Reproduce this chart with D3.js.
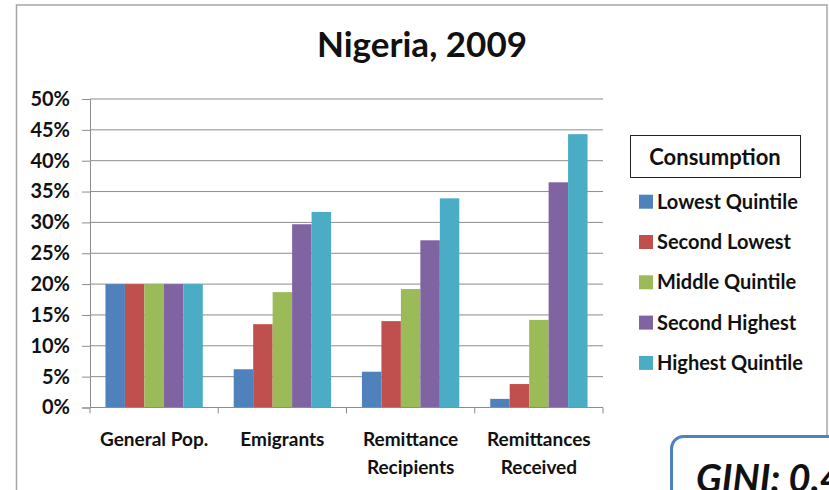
<!DOCTYPE html>
<html>
<head>
<meta charset="utf-8">
<script src="https://cdn.jsdelivr.net/npm/d3@7"></script>
<style>
  html, body { margin: 0; padding: 0; background: #fff; }
  svg { display: block; }
  text { font-family: Lato, "Open Sans", sans-serif; fill: #111; font-weight: bold; }
</style>
</head>
<body>
<svg id="chart" width="829" height="490"></svg>
<script>
// Consumption-quintile shares, Nigeria 2009
const categories = [["General Pop."], ["Emigrants"], ["Remittance", "Recipients"], ["Remittances", "Received"]];
const seriesNames = ["Lowest Quintile", "Second Lowest", "Middle Quintile", "Second Highest", "Highest Quintile"];
const lowestQuintile  = [0.20, 0.062, 0.058, 0.014];
const secondLowest    = [0.20, 0.135, 0.140, 0.038];
const middleQuintile  = [0.20, 0.187, 0.192, 0.142];
const secondHighest   = [0.20, 0.297, 0.271, 0.365];
const highestQuintile = [0.20, 0.317, 0.339, 0.443];
const yTicks = [0, 0.05, 0.10, 0.15, 0.20, 0.25, 0.30, 0.35, 0.40, 0.45, 0.50];
const colors = ["#4f81bd", "#c0504d", "#9bbb59", "#8064a2", "#4bacc6"];

const series = [lowestQuintile, secondLowest, middleQuintile, secondHighest, highestQuintile];
const catKeys = categories.map(c => c.join(" "));

const svg = d3.select("#chart");

// outer frame
svg.append("rect")
  .attr("x", 16.5).attr("y", 5).attr("width", 810.5).attr("height", 500)
  .attr("fill", "#fff").attr("stroke", "#a6a6a6").attr("stroke-width", 1.5);

// title
svg.append("text")
  .attr("x", 422).attr("y", 57)
  .attr("text-anchor", "middle")
  .style("font-size", "35px")
  .text("Nigeria, 2009");

const plotLeft = 90, plotRight = 603, plotTop = 99, plotBottom = 407.5;

const x0 = d3.scaleBand().domain(catKeys).range([plotLeft, plotRight])
  .paddingInner(0.241).paddingOuter(0.1205);
const x1 = d3.scaleBand().domain(d3.range(series.length)).range([0, x0.bandwidth()]);
const y = d3.scaleLinear().domain([0, 0.5]).range([plotBottom, plotTop]);

// gridlines
svg.append("g")
  .selectAll("line").data(yTicks.filter(t => t > 0)).join("line")
  .attr("x1", plotLeft).attr("x2", plotRight)
  .attr("y1", d => y(d)).attr("y2", d => y(d))
  .attr("stroke", "#8c8c8c").attr("stroke-width", 1);

// y axis
const yAxis = svg.append("g")
  .attr("transform", `translate(${plotLeft},0)`)
  .call(d3.axisLeft(y).tickValues(yTicks).tickFormat(d3.format(".0%")).tickSize(8).tickPadding(12));
yAxis.selectAll("path, line").attr("stroke", "#8c8c8c");
yAxis.selectAll("text")
  .style("font-size", "20px").style("font-family", "Lato, sans-serif").style("font-weight", "bold")
  .attr("fill", "#111");

// bars
const groups = svg.append("g").selectAll("g").data(catKeys).join("g")
  .attr("transform", d => `translate(${x0(d)},0)`);
groups.selectAll("rect")
  .data((d, i) => series.map((s, k) => ({ k, v: s[i] })))
  .join("rect")
  .attr("x", d => x1(d.k))
  .attr("width", x1.bandwidth())
  .attr("y", d => y(d.v))
  .attr("height", d => y(0) - y(d.v))
  .attr("fill", d => colors[d.k]);

// x axis baseline and category ticks
svg.append("line")
  .attr("x1", plotLeft).attr("x2", plotRight)
  .attr("y1", plotBottom).attr("y2", plotBottom)
  .attr("stroke", "#8c8c8c");
const step = x0.step();
svg.append("g").selectAll("line").data(d3.range(catKeys.length + 1)).join("line")
  .attr("x1", i => plotLeft + i * step).attr("x2", i => plotLeft + i * step)
  .attr("y1", plotBottom).attr("y2", plotBottom + 6)
  .attr("stroke", "#8c8c8c");

// category labels
svg.append("g").selectAll("text").data(categories).join("text")
  .attr("x", (d, i) => x0(catKeys[i]) + x0.bandwidth() / 2)
  .attr("y", 446)
  .attr("text-anchor", "middle")
  .style("font-size", "19px")
  .each(function (lines) {
    d3.select(this).selectAll("tspan").data(lines).join("tspan")
      .attr("x", d3.select(this).attr("x"))
      .attr("dy", (l, j) => j === 0 ? 0 : 28)
      .text(l => l);
  });

// legend
const legend = svg.append("g");
legend.append("rect")
  .attr("x", 630.5).attr("y", 135.5).attr("width", 170).attr("height", 42)
  .attr("fill", "#fff").attr("stroke", "#222").attr("stroke-width", 1);
legend.append("text")
  .attr("x", 715).attr("y", 164.5)
  .attr("text-anchor", "middle")
  .style("font-size", "22px")
  .text("Consumption");
const items = legend.selectAll("g.item").data(seriesNames).join("g")
  .attr("class", "item")
  .attr("transform", (d, i) => `translate(639,${201.7 + i * 40.3})`);
items.append("rect")
  .attr("x", 0).attr("y", -7).attr("width", 14).attr("height", 14)
  .attr("fill", (d, i) => colors[i]);
items.append("text")
  .attr("x", 18).attr("y", 7)
  .style("font-size", "20px")
  .text(d => d);

// GINI callout
svg.append("rect")
  .attr("x", 671.5).attr("y", 436.5).attr("width", 200).attr("height", 100)
  .attr("rx", 12).attr("ry", 12)
  .attr("fill", "#fff").attr("stroke", "#4f81bd").attr("stroke-width", 3);
svg.append("text")
  .attr("x", 696).attr("y", 492)
  .style("font-size", "38px").style("font-style", "italic")
  .attr("fill", "#000")
  .text("GINI: 0.4");
</script>
</body>
</html>
